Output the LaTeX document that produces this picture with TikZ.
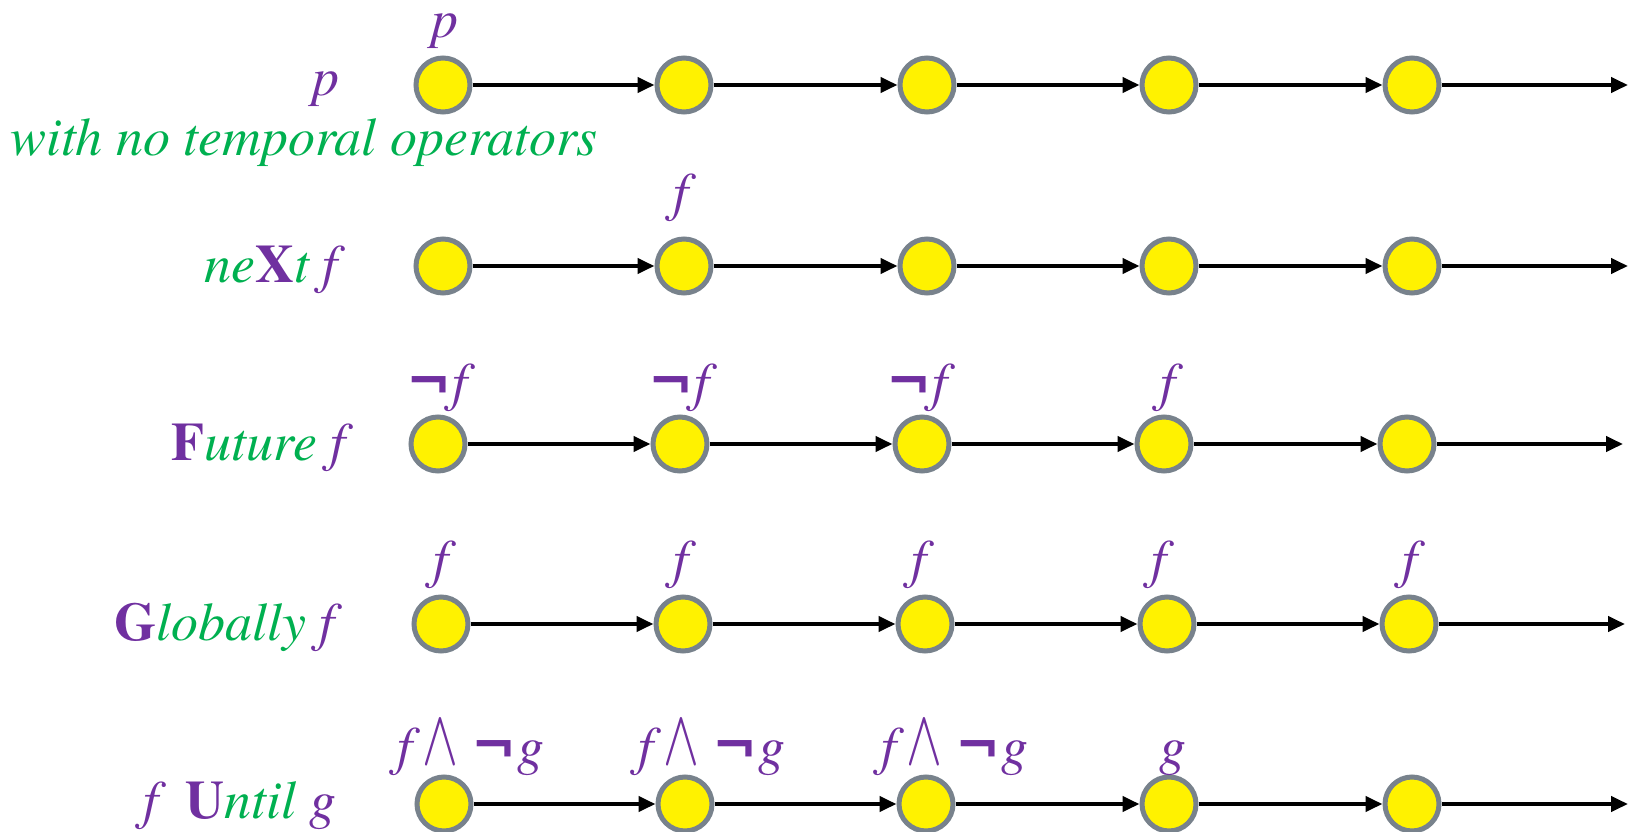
\documentclass[tikz,border=0pt]{standalone}
\usepackage{fontspec}
\setmainfont{texgyretermes}[Extension=.otf, UprightFont=*-regular, ItalicFont=*-italic, BoldFont=*-bold, BoldItalicFont=*-bolditalic]
\newfontfamily\symfont{DejaVu Sans}
\newfontfamily\lmmath{latinmodern-math.otf}
\usetikzlibrary{arrows.meta}
\definecolor{lgreen}{RGB}{0,176,80}
\definecolor{lpurple}{RGB}{112,48,160}
\definecolor{bgray}{RGB}{120,130,140}
\newcommand{\pu}[1]{\textcolor{lpurple}{#1}}
\newcommand{\gr}[1]{\textcolor{lgreen}{#1}}
\newcommand{\negsym}{{\symfont\bfseries\upshape ¬}}
\newcommand{\andsym}{\scalebox{1.05}[1.45]{\lmmath\upshape ∧}}
\begin{document}
\begin{tikzpicture}[x=1pt,y=-1pt,
  state/.style={circle,draw=bgray,fill=yellow,line width=5pt,minimum size=54pt,inner sep=0pt},
  link/.style={line width=4pt,-{Triangle[length=17pt,width=15pt]}},
  lab/.style={text=lpurple,font=\fontsize{54}{60}\selectfont\itshape,inner sep=0pt,anchor=base},
  side/.style={font=\fontsize{54}{60}\selectfont\itshape,inner sep=0pt,anchor=base east},
]
\useasboundingbox (0,0) rectangle (1631,832);
% rows of states
\foreach \r/\y/\xa/\xb/\xc/\xd/\xe in {1/85/443/684/927/1169/1412, 2/266/443/684/927/1169/1412, 3/444/438/680/922/1164/1407, 4/624/441/683/925/1167/1409, 5/804/444/685/926/1169/1412}{
  \node[state] (r\r c1) at (\xa,\y) {};
  \node[state] (r\r c2) at (\xb,\y) {};
  \node[state] (r\r c3) at (\xc,\y) {};
  \node[state] (r\r c4) at (\xd,\y) {};
  \node[state] (r\r c5) at (\xe,\y) {};
}
\coordinate (e1) at (1628,85);
\coordinate (e2) at (1628,266);
\coordinate (e3) at (1623,444);
\coordinate (e4) at (1625,624);
\coordinate (e5) at (1628,804);
\foreach \r in {1,...,5}{
  \draw[link] (r\r c1) -- (r\r c2);
  \draw[link] (r\r c2) -- (r\r c3);
  \draw[link] (r\r c3) -- (r\r c4);
  \draw[link] (r\r c4) -- (r\r c5);
  \draw[link] (r\r c5) -- (e\r);
}
% labels above states
\node[lab] (t1) at (445,38) {p};
\node[lab] (t2) at (681,211) {f};
\node[lab] (t31) at (437,400) {\negsym f};
\node[lab] (t32) at (679,400) {\negsym f};
\node[lab] (t33) at (917,400) {\negsym f};
\node[lab] (t34) at (1168,400) {f};
\node[lab] (t41) at (441,577) {f};
\node[lab] (t42) at (681,577) {f};
\node[lab] (t43) at (919,577) {f};
\node[lab] (t44) at (1159,577) {f};
\node[lab] (t45) at (1410,577) {f};
\node[lab] (t51) at (471,764) {f\,\andsym\hspace{12pt}\negsym g};
\node[lab] (t52) at (712,764) {f\,\andsym\hspace{12pt}\negsym g};
\node[lab] (t53) at (955,764) {f\,\andsym\hspace{12pt}\negsym g};
\node[lab] (t54) at (1173,764) {g};
% side labels
\node[lab] (s1) at (326,96) {p};
\node[side,anchor=base,text=lgreen] (s1b) at (304,156) {with no temporal operators};
\node[side] (s2) at (338,282) {\gr{ne}\pu{\textbf{\upshape X}}\gr{t} \pu{f}};
\node[side] (s3) at (346,460) {\pu{\textbf{\upshape F}}\gr{uture} \pu{f}};
\node[side] (s4) at (335,640) {\pu{\textbf{\upshape G}}\gr{lobally} \pu{f}};
\node[side] (s5) at (337,818) {\pu{f\ \ \textbf{\upshape U}}\gr{ntil} \pu{g}};
\end{tikzpicture}
\end{document}
